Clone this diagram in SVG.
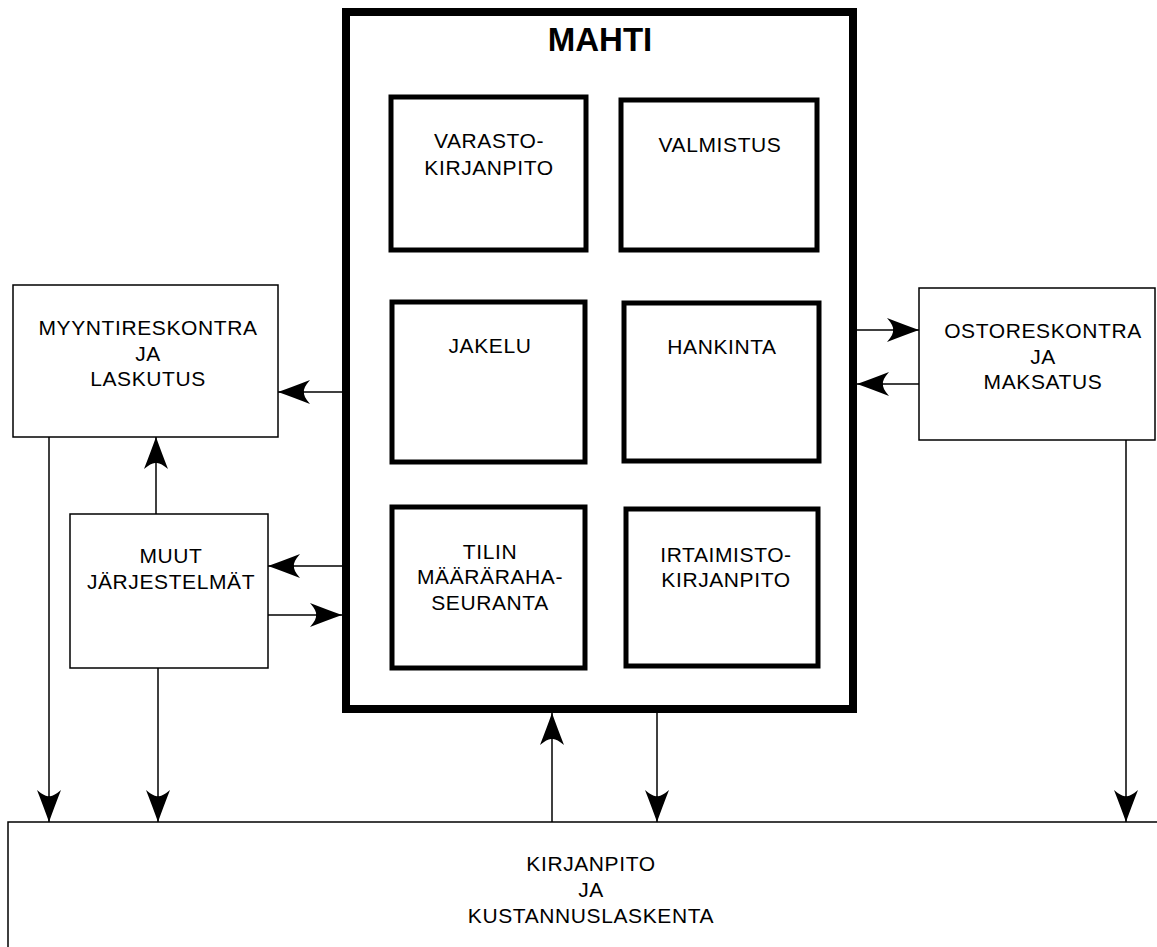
<svg xmlns="http://www.w3.org/2000/svg" width="1157" height="947" viewBox="0 0 1157 947">
<style>
  text { font-family: "Liberation Sans", Arial, sans-serif; font-size: 21px; letter-spacing: 0.6px; fill: #000; text-anchor: middle; }
  .title { font-size: 33px; font-weight: bold; letter-spacing: 0; }
  .box { fill: #fff; stroke: #000; stroke-width: 1.5; }
  .outer { fill: #fff; stroke: #000; stroke-width: 8; }
  .inner { fill: #fff; stroke: #000; stroke-width: 5; }
  .conn line { stroke: #000; stroke-width: 1.5; marker-end: url(#arr); }
</style>
<defs>
  <marker id="arr" viewBox="-34 -13 36 26" refX="0" refY="0" markerWidth="36" markerHeight="26" markerUnits="userSpaceOnUse" orient="auto">
    <path d="M0,0 Q-14,-5 -32,-12 Q-25,-4 -26,0 Q-25,4 -32,12 Q-14,5 0,0 Z" fill="#000"/>
  </marker>
</defs>
<rect width="1157" height="947" fill="#fff"/>

<g id="kirjanpito">
  <rect class="box" x="8" y="822" width="1200" height="200"/>
  <text x="591" y="871">KIRJANPITO</text>
  <text x="591" y="897">JA</text>
  <text x="591" y="923">KUSTANNUSLASKENTA</text>
</g>

<g id="mahti">
  <rect class="outer" x="346" y="12" width="507" height="697"/>
  <text class="title" x="600" y="51">MAHTI</text>
</g>
<g id="varasto">
  <rect class="inner" x="391" y="97" width="195" height="153"/>
  <text x="489" y="148">VARASTO-</text>
  <text x="489" y="175">KIRJANPITO</text>
</g>
<g id="valmistus">
  <rect class="inner" x="621" y="100" width="196" height="150"/>
  <text x="720" y="152">VALMISTUS</text>
</g>
<g id="jakelu">
  <rect class="inner" x="392" y="302" width="193" height="160"/>
  <text x="490" y="353">JAKELU</text>
</g>
<g id="hankinta">
  <rect class="inner" x="624" y="303" width="195" height="158"/>
  <text x="722" y="354">HANKINTA</text>
</g>
<g id="tilin">
  <rect class="inner" x="392" y="507" width="193" height="161"/>
  <text x="490" y="559">TILIN</text>
  <text x="490" y="584">MÄÄRÄRAHA-</text>
  <text x="490" y="610">SEURANTA</text>
</g>
<g id="irtaimisto">
  <rect class="inner" x="626" y="509" width="192" height="157"/>
  <text x="726" y="562">IRTAIMISTO-</text>
  <text x="726" y="587">KIRJANPITO</text>
</g>

<g id="myynti">
  <rect class="box" x="13" y="285" width="265" height="152"/>
  <text x="148" y="335">MYYNTIRESKONTRA</text>
  <text x="148" y="361">JA</text>
  <text x="148" y="386">LASKUTUS</text>
</g>
<g id="muut">
  <rect class="box" x="70" y="514" width="198" height="154"/>
  <text x="171" y="563">MUUT</text>
  <text x="171" y="589">JÄRJESTELMÄT</text>
</g>
<g id="osto">
  <rect class="box" x="919" y="288" width="236" height="152"/>
  <text x="1043" y="338">OSTORESKONTRA</text>
  <text x="1043" y="364">JA</text>
  <text x="1043" y="389">MAKSATUS</text>
</g>

<g id="connectors" class="conn">
  <line x1="342" y1="392" x2="278" y2="392"/>
  <line x1="156" y1="514" x2="156" y2="437"/>
  <line x1="342" y1="566" x2="268" y2="566"/>
  <line x1="268" y1="615" x2="342" y2="615"/>
  <line x1="857" y1="330" x2="919" y2="330"/>
  <line x1="919" y1="384" x2="857" y2="384"/>
  <line x1="49" y1="437" x2="49" y2="822"/>
  <line x1="158" y1="668" x2="158" y2="822"/>
  <line x1="552" y1="822" x2="552" y2="713"/>
  <line x1="657" y1="713" x2="657" y2="822"/>
  <line x1="1126" y1="440" x2="1126" y2="822"/>
</g>
</svg>
